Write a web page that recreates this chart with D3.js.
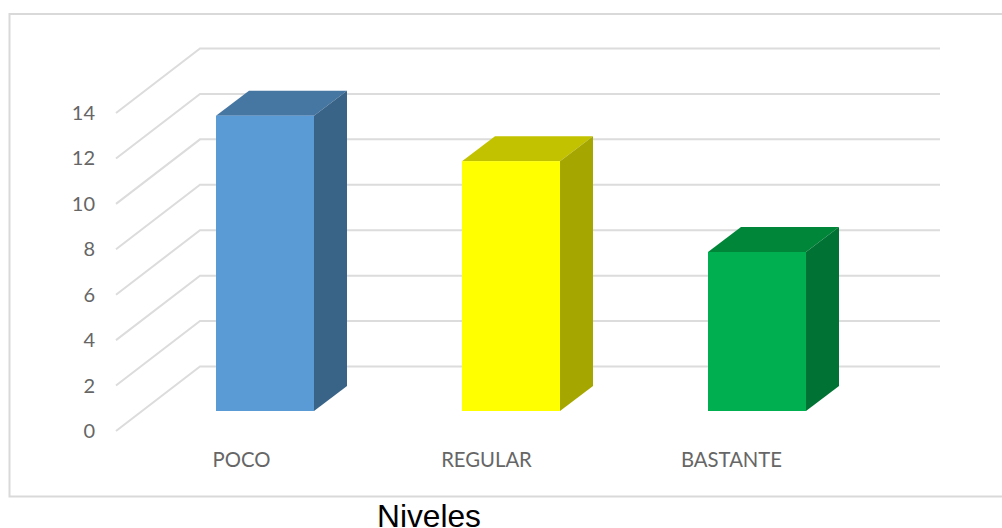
<!DOCTYPE html>
<html><head><meta charset="utf-8">
<script src="https://cdn.jsdelivr.net/npm/d3@7/dist/d3.min.js"></script>
<style>html,body{margin:0;padding:0;background:#fff;overflow:hidden}svg{display:block}</style>
</head><body><svg id="c" width="1002" height="528"></svg>
<script>
const categories = ["POCO", "REGULAR", "BASTANTE"];
const values = [13, 11, 7];
const frontColors = ["#5b9bd5", "#ffff00", "#00b050"];
const topColors = ["#4676a2", "#c2c200", "#008639"];
const sideColors = ["#396387", "#a6a600", "#007233"];
const yTicks = [0, 2, 4, 6, 8, 10, 12, 14];
const axisTitle = "Niveles";

const svg = d3.select("#c");
svg.append("rect").attr("width",1002).attr("height",528).attr("fill","#fff");
svg.append("path").attr("d","M1002,14H9.5V496.5H1002").attr("fill","none").attr("stroke","#d9d9d9").attr("stroke-width",2);

const y = d3.scaleLinear().domain([0,14]).range([431,113]);
const x = d3.scaleBand().domain(categories).range([142,880]).paddingInner(0.6016).paddingOuter(0.3008);
const xLabel = d3.scalePoint().domain(categories).range([241.5,731.5]);
const wallX0 = 116, wallDx = 84, wallDy = 64.5, wallW = 740;
const barLift = 20, barDx = 33, barDy = 25;

const grid = svg.append("g").attr("fill","none").attr("stroke","#dcdcdc").attr("stroke-width",2);
yTicks.forEach(t=>{
  const p = d3.path();
  p.moveTo(wallX0,y(t));
  p.lineTo(wallX0+wallDx,y(t)-wallDy);
  p.lineTo(wallX0+wallDx+wallW,y(t)-wallDy);
  grid.append("path").attr("d",p.toString());
});

const font = "Lato, Carlito, sans-serif";
svg.append("g").selectAll("text").data(yTicks).join("text")
  .attr("x",95).attr("y",d=>y(d)+7).attr("text-anchor","end")
  .attr("font-family",font).attr("font-size",20).attr("fill","#666").text(d=>d);

const bars = svg.append("g").selectAll("g").data(categories).join("g");
bars.each(function(c,i){
  const g = d3.select(this);
  const x0 = x(c), x1 = x0 + x.bandwidth();
  const b = y(0)-barLift, t = y(values[i])-barLift;
  g.append("polygon").attr("fill",topColors[i])
   .attr("points",[[x0,t],[x1,t],[x1+barDx,t-barDy],[x0+barDx,t-barDy]].join(" "));
  g.append("polygon").attr("fill",sideColors[i])
   .attr("points",[[x1,t],[x1+barDx,t-barDy],[x1+barDx,b-barDy],[x1,b]].join(" "));
  g.append("rect").attr("x",x0).attr("y",t).attr("width",x1-x0).attr("height",b-t).attr("fill",frontColors[i]);
});

svg.append("g").selectAll("text").data(categories).join("text")
  .attr("x",c=>xLabel(c)).attr("y",467).attr("text-anchor","middle")
  .attr("font-family",font).attr("font-size",20.3).attr("fill","#666").text(d=>d);

svg.append("text").attr("x",429).attr("y",527).attr("text-anchor","middle")
  .attr("font-family","'Liberation Sans', Arial, sans-serif").attr("font-size",31.7).attr("fill","#000").text(axisTitle);
</script></body></html>
